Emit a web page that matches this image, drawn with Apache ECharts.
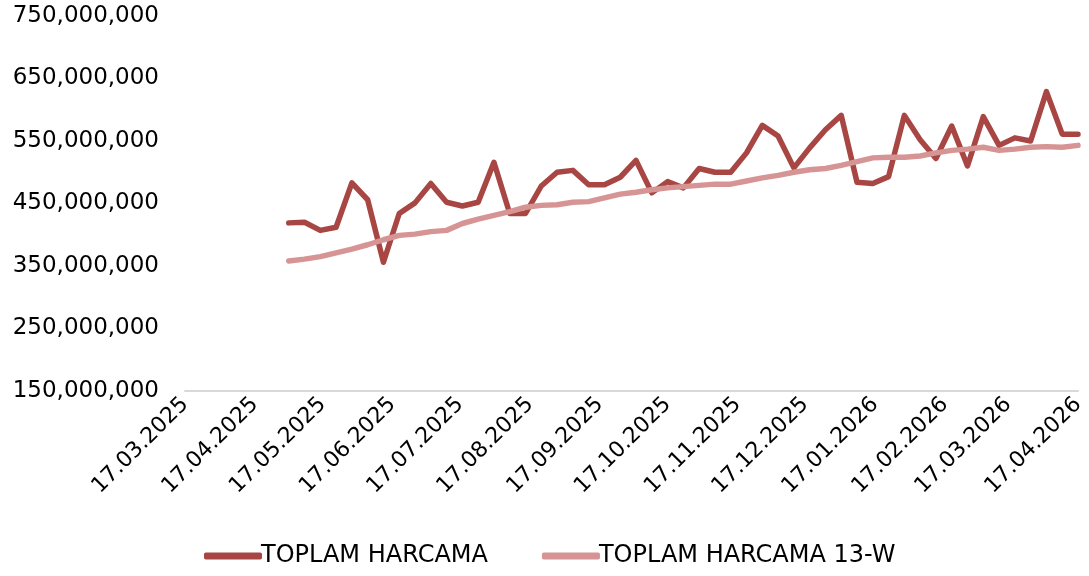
<!DOCTYPE html>
<html>
<head>
<meta charset="utf-8">
<script src="https://cdn.jsdelivr.net/npm/echarts@6/dist/echarts.min.js"></script>
<style>
  html, body { margin: 0; padding: 0; background: #fff; }
  #chart { width: 1089px; height: 576px; }
</style>
</head>
<body>
<div id="chart"></div>
<script>
// weekly dates (Fridays)
const dates = [
  '2025-05-02','2025-05-09','2025-05-16','2025-05-23','2025-05-30',
  '2025-06-06','2025-06-13','2025-06-20','2025-06-27',
  '2025-07-04','2025-07-11','2025-07-18','2025-07-25',
  '2025-08-01','2025-08-08','2025-08-15','2025-08-22','2025-08-29',
  '2025-09-05','2025-09-12','2025-09-19','2025-09-26',
  '2025-10-03','2025-10-10','2025-10-17','2025-10-24','2025-10-31',
  '2025-11-07','2025-11-14','2025-11-21','2025-11-28',
  '2025-12-05','2025-12-12','2025-12-19','2025-12-26',
  '2026-01-02','2026-01-09','2026-01-16','2026-01-23','2026-01-30',
  '2026-02-06','2026-02-13','2026-02-20','2026-02-27',
  '2026-03-06','2026-03-13','2026-03-20','2026-03-27',
  '2026-04-03','2026-04-10','2026-04-17'
]

// TOPLAM HARCAMA (millions)
const harcama = [
  419, 420, 407, 412, 483, 456, 356, 434, 451, 482,
  452, 446, 452, 516, 434, 434, 478, 500, 503, 480,
  480, 492, 519, 467, 485, 475, 506, 500, 500, 531,
  575, 558, 507, 539, 568, 591, 484, 482, 493, 591,
  552, 522, 574, 510, 589, 543, 555, 550, 629, 561,
  561
]

// TOPLAM HARCAMA 13-W (millions)
const harcama13w = [
  358, 361, 365, 371, 377, 384, 392, 399, 401, 405,
  407, 418, 425, 431, 437, 444, 447, 448, 452, 453,
  459, 465, 468, 472, 475, 477, 479, 481, 481, 486,
  491, 495, 500, 504, 506, 511, 517, 523, 524, 524,
  526, 531, 535, 537, 540, 535, 537, 540, 541, 540,
  543
]

// x tick positions
const xTicks = [
  '2025-03-17','2025-04-17','2025-05-17','2025-06-17','2025-07-17',
  '2025-08-17','2025-09-17','2025-10-17','2025-11-17','2025-12-17',
  '2026-01-17','2026-02-17','2026-03-17','2026-04-17'
]

const yMin = 150000000
const yMax = 750000000
const yStep = 100000000

const toTime = s => {
  const p = s.split('-')
  return new Date(+p[0], +p[1] - 1, +p[2]).getTime()
}
const pad = n => (n < 10 ? '0' : '') + n

const chart = echarts.init(document.getElementById('chart'))
chart.setOption({
  animation: false,
  color: ['#A84644', '#D69594'],
  textStyle: { fontFamily: 'DejaVu Sans' },
  grid: {
    left: 185,
    right: 11,
    top: 16,
    bottom: 185
  },
  legend: {
    left: 199,
    top: 539,
    itemGap: 54,
    itemWidth: 58,
    itemHeight: 7,
    icon: 'roundRect',
    textStyle: { fontSize: 24, color: '#000', fontFamily: 'DejaVu Sans', padding: [0, 0, 0, -6] },
    data: ['TOPLAM HARCAMA', 'TOPLAM HARCAMA 13-W']
  },
  xAxis: {
    type: 'value',
    min: toTime(xTicks[0]),
    max: toTime(xTicks[xTicks.length - 1]),
    axisLine: { show: true, lineStyle: { color: '#D9D9D9', width: 2 } },
    axisTick: { show: false },
    splitLine: { show: false },
    axisLabel: {
      customValues: xTicks.map(toTime),
      rotate: 45,
      margin: 10,
      fontSize: 22,
      color: '#000',
      hideOverlap: false,
      formatter: v => {
        const d = new Date(v)
        return pad(d.getDate()) + '.' + pad(d.getMonth() + 1) + '.' + d.getFullYear()
      }
    }
  },
  yAxis: {
    type: 'value',
    min: yMin,
    max: yMax,
    interval: yStep,
    axisLine: { show: false },
    axisTick: { show: false },
    splitLine: { show: false },
    axisLabel: {
      margin: 26,
      fontSize: 23,
      color: '#000',
      formatter: v => v.toLocaleString('en-US')
    }
  },
  series: [
    {
      name: 'TOPLAM HARCAMA',
      type: 'line',
      showSymbol: false,
      lineStyle: { width: 5.5, cap: 'round', join: 'round' },
      data: dates.map((d, i) => [toTime(d), harcama[i] * 1e6])
    },
    {
      name: 'TOPLAM HARCAMA 13-W',
      type: 'line',
      showSymbol: false,
      lineStyle: { width: 5.5, cap: 'round', join: 'round' },
      data: dates.map((d, i) => [toTime(d), harcama13w[i] * 1e6])
    }
  ]
})
</script>
</body>
</html>
